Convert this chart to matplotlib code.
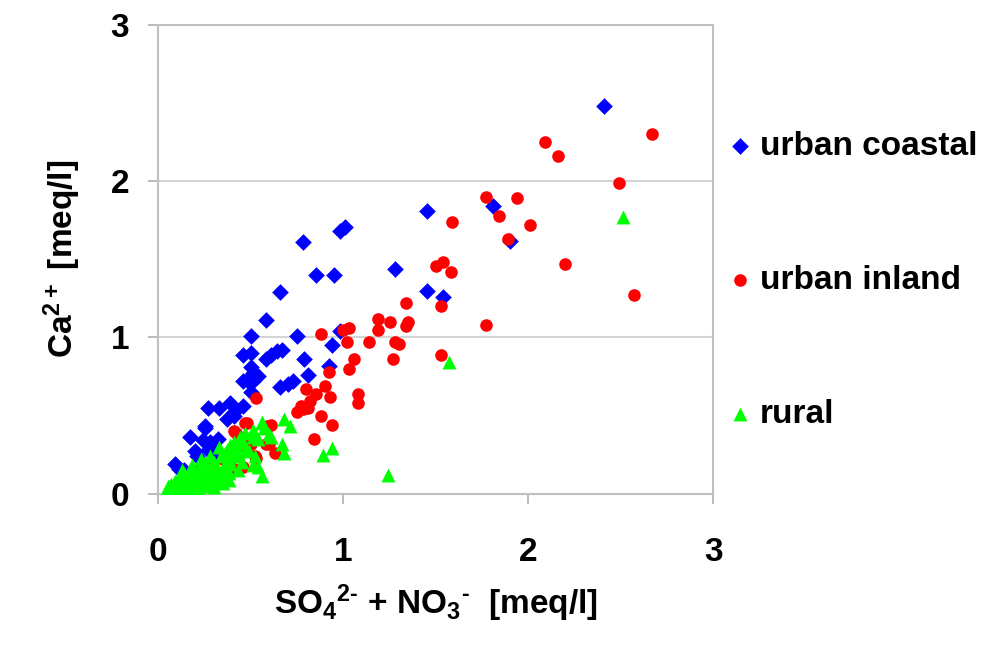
import matplotlib
matplotlib.use("Agg")
import matplotlib.pyplot as plt

plt.rcParams['font.family'] = ['Liberation Sans', 'DejaVu Sans']
plt.rcParams['mathtext.fontset'] = 'custom'
plt.rcParams['mathtext.rm'] = 'Liberation Sans:bold'
plt.rcParams['mathtext.bf'] = 'Liberation Sans:bold'
plt.rcParams['mathtext.default'] = 'bf'

# urban coastal (x = SO4 + NO3, y = Ca), meq/l
coastal_x = [2.41, 1.45, 1.81, 1.90, 1.01, 0.98, 0.78, 0.85, 0.95, 1.28, 1.45, 1.54,
             0.98, 0.94, 0.79, 0.92, 0.81, 0.75, 0.66, 0.58, 0.50, 0.46, 0.50, 0.58,
             0.61, 0.64, 0.67, 0.50, 0.51, 0.48, 0.46, 0.51, 0.54, 0.50, 0.66, 0.70,
             0.73, 0.27, 0.33, 0.39, 0.41, 0.46, 0.37, 0.41, 0.17, 0.25, 0.24, 0.28,
             0.32, 0.21, 0.27, 0.31, 0.09, 0.14, 0.23, 0.20, 0.30, 0.11, 0.15, 0.20,
             0.12, 0.25]
coastal_y = [2.48, 1.81, 1.84, 1.62, 1.71, 1.68, 1.61, 1.40, 1.40, 1.44, 1.30, 1.26,
             1.04, 0.95, 0.86, 0.82, 0.76, 1.01, 1.29, 1.11, 1.01, 0.89, 0.90, 0.86,
             0.89, 0.91, 0.92, 0.81, 0.77, 0.73, 0.72, 0.72, 0.75, 0.65, 0.68, 0.70,
             0.72, 0.55, 0.55, 0.58, 0.52, 0.56, 0.48, 0.50, 0.36, 0.42, 0.34, 0.33,
             0.35, 0.24, 0.28, 0.26, 0.19, 0.15, 0.17, 0.27, 0.28, 0.16, 0.10, 0.12,
             0.08, 0.43]

# urban inland
inland_x = [2.67, 2.09, 2.16, 2.49, 1.77, 1.94, 1.84, 2.01, 1.59, 1.89, 2.20, 2.57,
            1.50, 1.54, 1.58, 1.53, 1.34, 1.77, 1.19, 1.25, 1.19, 1.35, 1.34, 1.53,
            1.03, 1.00, 1.14, 1.28, 1.30, 1.27, 1.02, 1.06, 1.03, 0.92, 0.88, 1.08,
            1.08, 0.80, 0.85, 0.90, 0.93, 0.82, 0.78, 0.81, 0.88, 0.94, 0.84, 0.53,
            0.48, 0.42, 0.46, 0.50, 0.59, 0.58, 0.63, 0.48, 0.53, 0.41, 0.46, 0.75,
            0.77, 0.42, 0.52, 0.61, 0.60, 0.28, 0.49, 0.35, 0.30, 0.41, 0.47]
inland_y = [2.30, 2.25, 2.16, 1.99, 1.90, 1.89, 1.78, 1.72, 1.74, 1.63, 1.47, 1.27,
            1.46, 1.48, 1.42, 1.20, 1.22, 1.08, 1.12, 1.10, 1.05, 1.10, 1.07, 0.89,
            1.06, 1.05, 0.97, 0.97, 0.96, 0.86, 0.97, 0.86, 0.80, 0.78, 1.02, 0.64,
            0.58, 0.67, 0.64, 0.69, 0.62, 0.59, 0.54, 0.55, 0.50, 0.44, 0.35, 0.61,
            0.45, 0.39, 0.35, 0.32, 0.43, 0.32, 0.26, 0.30, 0.23, 0.16, 0.17, 0.52,
            0.56, 0.26, 0.24, 0.44, 0.32, 0.17, 0.33, 0.22, 0.12, 0.40, 0.45]

# rural
rural_x = [2.51, 1.57, 1.24, 0.89, 0.94, 0.68, 0.71, 0.56, 0.51, 0.67, 0.68, 0.56,
           0.56, 0.57, 0.60, 0.61, 0.54, 0.51, 0.47, 0.52, 0.54, 0.51, 0.42, 0.42,
           0.39, 0.43, 0.38,
           0.04, 0.06, 0.08, 0.09, 0.10, 0.11, 0.12, 0.13, 0.14, 0.15, 0.16, 0.17,
           0.18, 0.19, 0.20, 0.21, 0.22, 0.23, 0.24, 0.25, 0.26, 0.27, 0.28, 0.29,
           0.30, 0.31, 0.32, 0.33, 0.34, 0.35, 0.36, 0.37, 0.38, 0.40, 0.41, 0.44,
           0.45, 0.47, 0.13, 0.18, 0.23, 0.28, 0.33, 0.07, 0.16, 0.22,
           0.05, 0.09, 0.12, 0.15, 0.19, 0.21, 0.24, 0.26, 0.29, 0.31, 0.34, 0.36,
           0.39, 0.43, 0.46, 0.49, 0.11, 0.14, 0.17, 0.20, 0.25, 0.30, 0.35, 0.38]
rural_y = [1.77, 0.84, 0.12, 0.25, 0.29, 0.48, 0.43, 0.45, 0.41, 0.32, 0.26, 0.11,
           0.46, 0.42, 0.38, 0.36, 0.35, 0.36, 0.39, 0.24, 0.17, 0.18, 0.30, 0.24,
           0.19, 0.15, 0.13,
           0.01, 0.03, 0.02, 0.05, 0.03, 0.07, 0.04, 0.10, 0.06, 0.03, 0.12, 0.08,
           0.05, 0.14, 0.10, 0.04, 0.16, 0.08, 0.12, 0.05, 0.18, 0.10, 0.14, 0.07,
           0.20, 0.12, 0.16, 0.09, 0.24, 0.14, 0.19, 0.28, 0.22, 0.26, 0.33, 0.36,
           0.20, 0.28, 0.15, 0.18, 0.22, 0.24, 0.30, 0.06, 0.02, 0.02,
           0.05, 0.08, 0.11, 0.09, 0.07, 0.13, 0.09, 0.14, 0.11, 0.17, 0.12, 0.26,
           0.31, 0.26, 0.33, 0.27, 0.01, 0.13, 0.02, 0.06, 0.20, 0.04, 0.07, 0.09]

fig = plt.figure(figsize=(10, 6.46), dpi=100)
ax = fig.add_axes([0.1583, 0.2359, 0.555, 0.7254])

h1 = ax.scatter(coastal_x, coastal_y, marker='D', s=72, color='#0000ff', linewidths=0, zorder=3)
h2 = ax.scatter(inland_x, inland_y, marker='o', s=82, color='#ff0000', linewidths=0, zorder=4)
h3 = ax.scatter(rural_x, rural_y, marker='^', s=100, color='#00ff00', linewidths=0, zorder=5)

ax.set_xlim(0, 3)
ax.set_ylim(0, 3)
ax.set_xticks([0, 1, 2, 3])
ax.set_yticks([0, 1, 2, 3])
ax.yaxis.grid(True, color='#d4d4d4', linewidth=1.5)
ax.set_axisbelow(True)
for sp in ax.spines.values():
    sp.set_color('#c0c0c0')
    sp.set_linewidth(1.5)
ax.tick_params(direction='out', length=7, width=1.2, color='#b0b0b0', labelsize=24)
ax.tick_params(axis='x', pad=24)
ax.tick_params(axis='y', pad=14)
for lab in ax.get_xticklabels() + ax.get_yticklabels():
    lab.set_fontweight('bold')

ax.set_xlabel(r'SO$_4$$^{2\text{-}}$ + NO$_3$$^{\text{-}}$  [meq/l]', fontsize=24,
              fontweight='bold', labelpad=11)
ax.set_ylabel('Ca$^{2+}$ [meq/l]', fontsize=24, fontweight='bold', labelpad=20)

leg = ax.legend([h1, h2, h3], ['urban coastal', 'urban inland', 'rural'],
                loc='center left', bbox_to_anchor=(0.7333, 0.566),
                bbox_transform=fig.transFigure, frameon=False,
                prop={'size': 24, 'weight': 'bold'}, markerscale=1.0,
                handlelength=0.4, handletextpad=0.4, labelspacing=3.1,
                borderpad=0, borderaxespad=0)

fig.savefig('out.png', dpi=100)
